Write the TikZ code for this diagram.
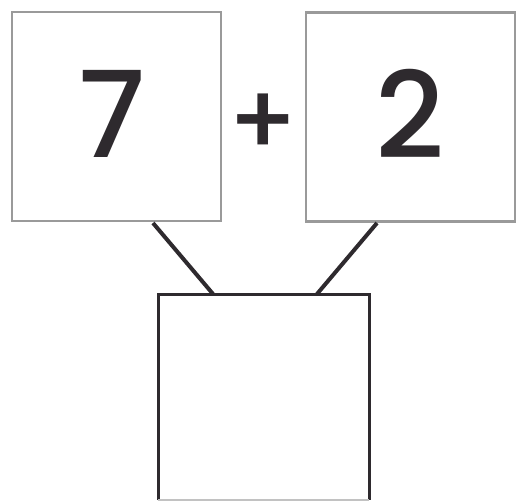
\documentclass[tikz,border=0pt]{standalone}
\usepackage{fontspec}
\setmainfont{Poppins}[UprightFont=*-Medium, BoldFont=*-SemiBold]
\definecolor{boxgray}{HTML}{9A9A9A}
\definecolor{ink}{HTML}{2E2A2E}
\tikzset{
  numbox/.style={draw=boxgray, line width=2.5pt, fill=white, minimum width=209pt, minimum height=209pt, inner sep=0pt},
  digit/.style={text=ink, font=\fontsize{120}{120}\selectfont, inner sep=0pt},
  link/.style={draw=ink, line width=4pt},
  answer/.style={draw=ink, line width=3pt}
}
\begin{document}
\begin{tikzpicture}[x=1pt,y=-1pt]
\useasboundingbox (0,0) rectangle (518,501);
\node[numbox] (a) at (116.5,116.5) {};
\node[numbox] (b) at (410.5,117) {};
\node[digit] (da) at (112,114) {7};
\node[digit] (db) at (410,114) {2};
\node[text=ink, font=\fontsize{100}{100}\selectfont, inner sep=0pt] (plus) at (263,125) {+};
\coordinate (c1) at (158,294);
\coordinate (c2) at (369,294);
\coordinate (c3) at (369,500);
\coordinate (c4) at (158,500);
\draw[answer, line join=miter] (c4) -- (c1) -- (c2) -- (c3);
\draw[draw=boxgray!60, line width=1.5pt] (c4) -- (c3);
\coordinate (la) at (153,223);
\coordinate (lb) at (377,223);
\coordinate (ta) at (213,294);
\coordinate (tb) at (317,294);
\draw[link] (la) -- (ta);
\draw[link] (lb) -- (tb);
\end{tikzpicture}
\end{document}
